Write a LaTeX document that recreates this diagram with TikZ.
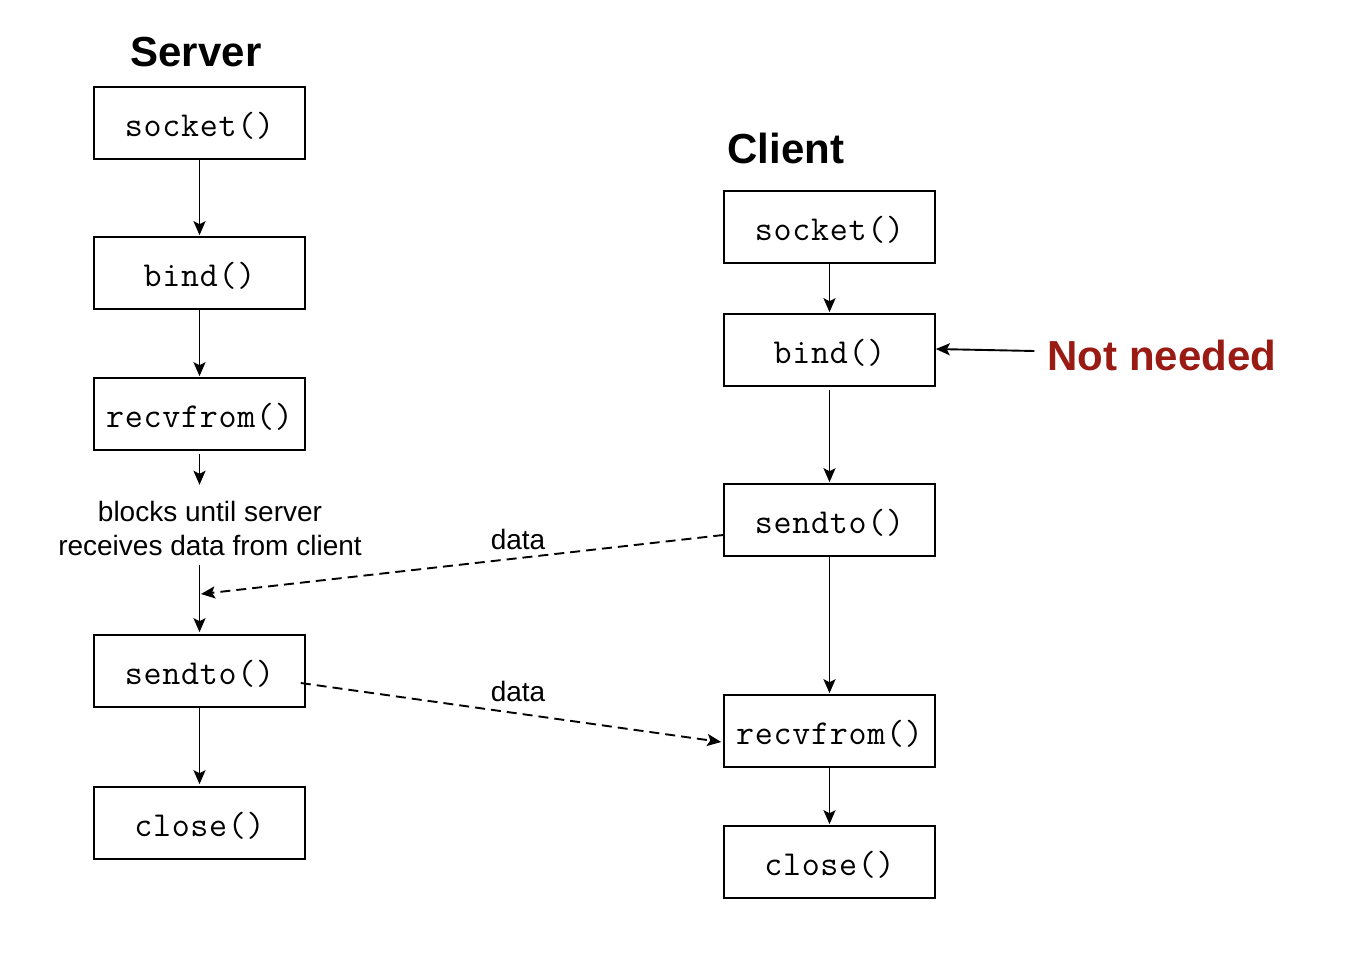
\documentclass[tikz,border=0pt]{standalone}
\usepackage{fontspec}
\setmainfont{Liberation Sans}
\newfontfamily\codefont[LetterSpace=2]{Latin Modern Mono}
\usetikzlibrary{arrows.meta}
\definecolor{nnred}{HTML}{991B14}
\begin{document}
\begin{tikzpicture}[x=1pt,y=-1pt,
  fn/.style={draw, line width=1.6pt, minimum width=211pt, minimum height=72pt, inner sep=0pt, text height=27pt, text depth=0pt, font=\fontsize{35}{35}\selectfont\codefont},
  title/.style={font=\fontsize{42}{42}\selectfont\bfseries, inner sep=0pt},
  lbl/.style={font=\fontsize{28}{34}\selectfont, inner sep=0pt},
  arr/.style={draw, line width=1.9pt, -{Stealth[length=14pt,width=12pt,inset=3pt]}},
  darr/.style={arr, dash pattern=on 10pt off 6pt}]
\useasboundingbox (0,0) rectangle (1362,964);
% titles
\node[title] (tS) at (196,52) {Server};
\node[title] (tC) at (786,148) {Client};
\node[title, text=nnred] (nn) at (1162,355) {Not needed};
% server
\node[fn] (s1) at (199.5,123) {socket()};
\node[fn] (s2) at (199.5,273) {bind()};
\node[fn] (s3) at (199.5,414) {recvfrom()};
\node[lbl, align=center, minimum height=80pt] (blk) at (210,528) {blocks until server\\receives data from client};
\node[fn] (s4) at (199.5,671) {sendto()};
\node[fn] (s5) at (199.5,823) {close()};
% client
\node[fn] (c1) at (829.5,227) {socket()};
\node[fn] (c2) at (829.5,350) {bind()};
\node[fn] (c3) at (829.5,520) {sendto()};
\node[fn] (c4) at (829.5,731) {recvfrom()};
\node[fn] (c5) at (829.5,862) {close()};
% labels
\node[lbl] (d1) at (518,539) {data};
\node[lbl] (d2) at (518,691) {data};
\coordinate (m) at (201,594);
% server arrows
\draw[arr] (s1.south) -- ([yshift=1pt]s2.north);
\draw[arr] (s2.south) -- ([yshift=1pt]s3.north);
\draw[arr] ([yshift=-3pt]s3.south) -- ([yshift=3pt]blk.north -| s3.south);
\draw[arr] ([yshift=3pt]blk.south -| s3.south) -- ([yshift=2pt]s4.north);
\draw[arr] (s4.south) -- ([yshift=2pt]s5.north);
% client arrows
\draw[arr] (c1.south) -- ([yshift=1pt]c2.north);
\draw[arr] ([yshift=-3pt]c2.south) -- ([yshift=1pt]c3.north);
\draw[arr] (c3.south) -- ([yshift=1pt]c4.north);
\draw[arr] (c4.south) -- ([yshift=1pt]c5.north);
\draw[arr] ([xshift=-13pt,yshift=4pt]nn.west) -- ([yshift=1pt]c2.east);
% data arrows
\draw[darr] ([yshift=-15pt]c3.west) -- (m);
\draw[darr] ([xshift=-5pt,yshift=-12pt]s4.east) -- ([xshift=-2pt,yshift=-11pt]c4.west);
\end{tikzpicture}
\end{document}
